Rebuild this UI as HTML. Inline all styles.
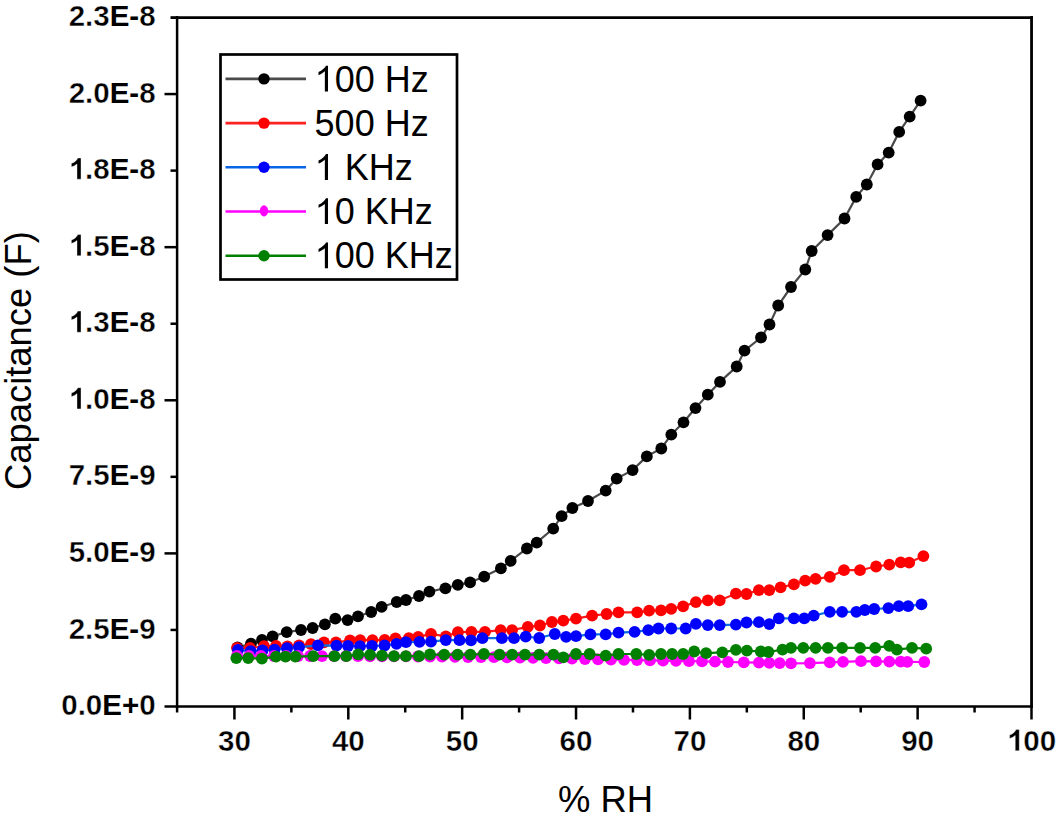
<!DOCTYPE html>
<html><head><meta charset="utf-8"><title>Capacitance vs RH</title>
<style>
html,body{margin:0;padding:0;background:#fff;}
body{width:1058px;height:817px;overflow:hidden;}
svg{display:block;font-family:"Liberation Sans",sans-serif;}
.yl{font-size:29.5px;font-weight:bold;stroke:#fff;stroke-width:0.4px;text-anchor:end;fill:#000;}
.xl{font-size:29.5px;font-weight:bold;stroke:#fff;stroke-width:0.4px;text-anchor:middle;fill:#000;}
.ti{font-size:36.4px;fill:#000;}
.lg{font-size:36px;fill:#000;}
.one{fill-opacity:0;}
</style></head>
<body>
<svg width="1058" height="817" viewBox="0 0 1058 817">
<rect width="1058" height="817" fill="#fff"></rect>
<line x1="177.1" y1="16.1" x2="177.1" y2="707.75" stroke="#000" stroke-width="2.5"></line>
<line x1="175.9" y1="706.6" x2="1032.9" y2="706.6" stroke="#000" stroke-width="2.5"></line>
<line x1="1031.55" y1="16.1" x2="1031.55" y2="707.75" stroke="#000" stroke-width="2.8"></line>
<line x1="175.9" y1="17.6" x2="1032.9" y2="17.6" stroke="#000" stroke-width="2.8"></line>
<line x1="164.5" y1="706.50" x2="177.5" y2="706.50" stroke="#000" stroke-width="2.5"></line>
<line x1="170.5" y1="629.94" x2="177.5" y2="629.94" stroke="#000" stroke-width="2.5"></line>
<line x1="164.5" y1="553.39" x2="177.5" y2="553.39" stroke="#000" stroke-width="2.5"></line>
<line x1="170.5" y1="476.83" x2="177.5" y2="476.83" stroke="#000" stroke-width="2.5"></line>
<line x1="164.5" y1="400.28" x2="177.5" y2="400.28" stroke="#000" stroke-width="2.5"></line>
<line x1="170.5" y1="323.72" x2="177.5" y2="323.72" stroke="#000" stroke-width="2.5"></line>
<line x1="164.5" y1="247.17" x2="177.5" y2="247.17" stroke="#000" stroke-width="2.5"></line>
<line x1="170.5" y1="170.61" x2="177.5" y2="170.61" stroke="#000" stroke-width="2.5"></line>
<line x1="164.5" y1="94.06" x2="177.5" y2="94.06" stroke="#000" stroke-width="2.5"></line>
<line x1="170.5" y1="17.60" x2="177.5" y2="17.60" stroke="#000" stroke-width="2.8"></line>
<line x1="177.10" y1="706.5" x2="177.10" y2="712.5" stroke="#000" stroke-width="2.5"></line>
<line x1="234.43" y1="706.5" x2="234.43" y2="719.5" stroke="#000" stroke-width="2.5"></line>
<line x1="291.37" y1="706.5" x2="291.37" y2="712.5" stroke="#000" stroke-width="2.5"></line>
<line x1="348.30" y1="706.5" x2="348.30" y2="719.5" stroke="#000" stroke-width="2.5"></line>
<line x1="405.23" y1="706.5" x2="405.23" y2="712.5" stroke="#000" stroke-width="2.5"></line>
<line x1="462.17" y1="706.5" x2="462.17" y2="719.5" stroke="#000" stroke-width="2.5"></line>
<line x1="519.10" y1="706.5" x2="519.10" y2="712.5" stroke="#000" stroke-width="2.5"></line>
<line x1="576.03" y1="706.5" x2="576.03" y2="719.5" stroke="#000" stroke-width="2.5"></line>
<line x1="632.97" y1="706.5" x2="632.97" y2="712.5" stroke="#000" stroke-width="2.5"></line>
<line x1="689.90" y1="706.5" x2="689.90" y2="719.5" stroke="#000" stroke-width="2.5"></line>
<line x1="746.83" y1="706.5" x2="746.83" y2="712.5" stroke="#000" stroke-width="2.5"></line>
<line x1="803.77" y1="706.5" x2="803.77" y2="719.5" stroke="#000" stroke-width="2.5"></line>
<line x1="860.70" y1="706.5" x2="860.70" y2="712.5" stroke="#000" stroke-width="2.5"></line>
<line x1="917.63" y1="706.5" x2="917.63" y2="719.5" stroke="#000" stroke-width="2.5"></line>
<line x1="974.57" y1="706.5" x2="974.57" y2="712.5" stroke="#000" stroke-width="2.5"></line>
<line x1="1031.50" y1="706.5" x2="1031.50" y2="719.5" stroke="#000" stroke-width="2.5"></line>
<text x="155.6" y="715.1" class="yl">0.0<tspan style="stroke:none">E</tspan><tspan style="stroke:none">+</tspan>0</text>
<text x="155.6" y="638.5" class="yl">2.5<tspan style="stroke:none">E</tspan><tspan style="stroke:none">-</tspan>9</text>
<text x="155.6" y="562.0" class="yl">5.0<tspan style="stroke:none">E</tspan><tspan style="stroke:none">-</tspan>9</text>
<text x="155.6" y="485.4" class="yl">7.5<tspan style="stroke:none">E</tspan><tspan style="stroke:none">-</tspan>9</text>
<text x="155.6" y="408.9" class="yl"><tspan class="one">1</tspan>.0<tspan style="stroke:none">E</tspan><tspan style="stroke:none">-</tspan>8</text><path d="M860 0H580V1059Q426 915 190 846V1101Q327 1137 456 1237Q585 1338 633 1472H860Z" transform="translate(68.63,408.90) scale(0.014404,-0.014404)" fill="#000" stroke="#fff" stroke-width="0.4" vector-effect="non-scaling-stroke"></path>
<text x="155.6" y="332.3" class="yl"><tspan class="one">1</tspan>.3<tspan style="stroke:none">E</tspan><tspan style="stroke:none">-</tspan>8</text><path d="M860 0H580V1059Q426 915 190 846V1101Q327 1137 456 1237Q585 1338 633 1472H860Z" transform="translate(68.63,332.30) scale(0.014404,-0.014404)" fill="#000" stroke="#fff" stroke-width="0.4" vector-effect="non-scaling-stroke"></path>
<text x="155.6" y="255.8" class="yl"><tspan class="one">1</tspan>.5<tspan style="stroke:none">E</tspan><tspan style="stroke:none">-</tspan>8</text><path d="M860 0H580V1059Q426 915 190 846V1101Q327 1137 456 1237Q585 1338 633 1472H860Z" transform="translate(68.63,255.80) scale(0.014404,-0.014404)" fill="#000" stroke="#fff" stroke-width="0.4" vector-effect="non-scaling-stroke"></path>
<text x="155.6" y="179.2" class="yl"><tspan class="one">1</tspan>.8<tspan style="stroke:none">E</tspan><tspan style="stroke:none">-</tspan>8</text><path d="M860 0H580V1059Q426 915 190 846V1101Q327 1137 456 1237Q585 1338 633 1472H860Z" transform="translate(68.63,179.20) scale(0.014404,-0.014404)" fill="#000" stroke="#fff" stroke-width="0.4" vector-effect="non-scaling-stroke"></path>
<text x="155.6" y="102.7" class="yl">2.0<tspan style="stroke:none">E</tspan><tspan style="stroke:none">-</tspan>8</text>
<text x="155.6" y="26.1" class="yl">2.3<tspan style="stroke:none">E</tspan><tspan style="stroke:none">-</tspan>8</text>
<text x="234.4" y="750.8" class="xl">30</text>
<text x="348.3" y="750.8" class="xl">40</text>
<text x="462.2" y="750.8" class="xl">50</text>
<text x="576.0" y="750.8" class="xl">60</text>
<text x="689.9" y="750.8" class="xl">70</text>
<text x="803.8" y="750.8" class="xl">80</text>
<text x="917.6" y="750.8" class="xl">90</text>
<text x="1031.5" y="750.8" class="xl"><tspan class="one">1</tspan>00</text><path d="M860 0H580V1059Q426 915 190 846V1101Q327 1137 456 1237Q585 1338 633 1472H860Z" transform="translate(1006.88,750.80) scale(0.014404,-0.014404)" fill="#000" stroke="#fff" stroke-width="0.4" vector-effect="non-scaling-stroke"></path>
<text class="ti" x="605.6" y="811.8" text-anchor="middle">% RH</text>
<text class="ti" transform="translate(31.4,360.6) rotate(-90)" text-anchor="middle">Capacitance (F)</text>
<polyline points="237.5,647.5 251.0,643.6 262.0,640.0 272.6,636.3 286.7,632.1 301.0,630.0 312.6,628.0 324.9,624.3 335.3,618.6 347.6,620.1 358.0,616.3 371.2,612.0 381.6,606.9 396.7,602.0 406.0,600.0 419.0,596.0 429.4,591.6 445.4,588.3 457.8,584.8 470.1,582.4 484.2,576.6 500.9,568.3 510.7,560.9 526.9,548.5 536.7,542.7 553.2,528.6 561.6,516.2 572.4,508.0 588.0,501.0 605.7,490.6 616.7,478.6 632.6,470.1 646.8,456.4 661.3,448.5 671.3,434.6 683.5,422.3 695.5,408.1 707.8,394.7 720.0,381.9 736.7,366.5 744.5,350.6 761.0,337.5 769.5,324.5 778.2,305.5 791.0,287.0 805.3,269.5 811.7,251.0 827.6,235.1 844.5,218.5 856.2,196.9 866.8,184.5 877.6,164.4 888.7,152.6 899.2,131.9 909.7,116.6 920.6,100.7" fill="none" stroke="#4a4a4a" stroke-width="2.2"></polyline>
<g fill="#000"><circle cx="237.5" cy="647.5" r="5.9"></circle><circle cx="251.0" cy="643.6" r="5.9"></circle><circle cx="262.0" cy="640.0" r="5.9"></circle><circle cx="272.6" cy="636.3" r="5.9"></circle><circle cx="286.7" cy="632.1" r="5.9"></circle><circle cx="301.0" cy="630.0" r="5.9"></circle><circle cx="312.6" cy="628.0" r="5.9"></circle><circle cx="324.9" cy="624.3" r="5.9"></circle><circle cx="335.3" cy="618.6" r="5.9"></circle><circle cx="347.6" cy="620.1" r="5.9"></circle><circle cx="358.0" cy="616.3" r="5.9"></circle><circle cx="371.2" cy="612.0" r="5.9"></circle><circle cx="381.6" cy="606.9" r="5.9"></circle><circle cx="396.7" cy="602.0" r="5.9"></circle><circle cx="406.0" cy="600.0" r="5.9"></circle><circle cx="419.0" cy="596.0" r="5.9"></circle><circle cx="429.4" cy="591.6" r="5.9"></circle><circle cx="445.4" cy="588.3" r="5.9"></circle><circle cx="457.8" cy="584.8" r="5.9"></circle><circle cx="470.1" cy="582.4" r="5.9"></circle><circle cx="484.2" cy="576.6" r="5.9"></circle><circle cx="500.9" cy="568.3" r="5.9"></circle><circle cx="510.7" cy="560.9" r="5.9"></circle><circle cx="526.9" cy="548.5" r="5.9"></circle><circle cx="536.7" cy="542.7" r="5.9"></circle><circle cx="553.2" cy="528.6" r="5.9"></circle><circle cx="561.6" cy="516.2" r="5.9"></circle><circle cx="572.4" cy="508.0" r="5.9"></circle><circle cx="588.0" cy="501.0" r="5.9"></circle><circle cx="605.7" cy="490.6" r="5.9"></circle><circle cx="616.7" cy="478.6" r="5.9"></circle><circle cx="632.6" cy="470.1" r="5.9"></circle><circle cx="646.8" cy="456.4" r="5.9"></circle><circle cx="661.3" cy="448.5" r="5.9"></circle><circle cx="671.3" cy="434.6" r="5.9"></circle><circle cx="683.5" cy="422.3" r="5.9"></circle><circle cx="695.5" cy="408.1" r="5.9"></circle><circle cx="707.8" cy="394.7" r="5.9"></circle><circle cx="720.0" cy="381.9" r="5.9"></circle><circle cx="736.7" cy="366.5" r="5.9"></circle><circle cx="744.5" cy="350.6" r="5.9"></circle><circle cx="761.0" cy="337.5" r="5.9"></circle><circle cx="769.5" cy="324.5" r="5.9"></circle><circle cx="778.2" cy="305.5" r="5.9"></circle><circle cx="791.0" cy="287.0" r="5.9"></circle><circle cx="805.3" cy="269.5" r="5.9"></circle><circle cx="811.7" cy="251.0" r="5.9"></circle><circle cx="827.6" cy="235.1" r="5.9"></circle><circle cx="844.5" cy="218.5" r="5.9"></circle><circle cx="856.2" cy="196.9" r="5.9"></circle><circle cx="866.8" cy="184.5" r="5.9"></circle><circle cx="877.6" cy="164.4" r="5.9"></circle><circle cx="888.7" cy="152.6" r="5.9"></circle><circle cx="899.2" cy="131.9" r="5.9"></circle><circle cx="909.7" cy="116.6" r="5.9"></circle><circle cx="920.6" cy="100.7" r="5.9"></circle></g>
<polyline points="237.0,648.0 250.0,648.0 264.0,646.2 276.0,646.0 287.4,646.5 299.0,645.5 311.0,644.2 324.0,642.3 336.0,642.3 350.0,640.3 360.2,640.1 372.5,640.1 384.7,640.0 395.5,638.4 408.8,638.2 418.2,636.9 431.0,633.9 445.8,636.3 457.9,632.2 471.4,631.9 485.0,631.9 500.7,630.1 512.1,630.1 527.8,626.9 539.9,625.5 551.9,622.0 563.3,620.6 576.0,618.6 592.1,615.7 606.6,614.0 618.5,612.3 637.2,612.3 649.1,610.6 661.0,610.3 671.2,608.9 683.1,606.4 695.9,602.1 707.8,600.4 719.7,600.4 735.9,593.6 746.5,594.0 758.9,590.1 769.3,590.1 780.6,587.3 793.9,584.4 805.2,580.6 815.6,578.8 829.8,576.9 844.0,570.2 860.0,570.2 876.1,566.5 889.3,564.6 900.7,562.3 909.2,562.7 923.4,556.1" fill="none" stroke="#ff1a1a" stroke-width="2.2"></polyline>
<g fill="#ff0000"><circle cx="237.0" cy="648.0" r="5.9"></circle><circle cx="250.0" cy="648.0" r="5.9"></circle><circle cx="264.0" cy="646.2" r="5.9"></circle><circle cx="276.0" cy="646.0" r="5.9"></circle><circle cx="287.4" cy="646.5" r="5.9"></circle><circle cx="299.0" cy="645.5" r="5.9"></circle><circle cx="311.0" cy="644.2" r="5.9"></circle><circle cx="324.0" cy="642.3" r="5.9"></circle><circle cx="336.0" cy="642.3" r="5.9"></circle><circle cx="350.0" cy="640.3" r="5.9"></circle><circle cx="360.2" cy="640.1" r="5.9"></circle><circle cx="372.5" cy="640.1" r="5.9"></circle><circle cx="384.7" cy="640.0" r="5.9"></circle><circle cx="395.5" cy="638.4" r="5.9"></circle><circle cx="408.8" cy="638.2" r="5.9"></circle><circle cx="418.2" cy="636.9" r="5.9"></circle><circle cx="431.0" cy="633.9" r="5.9"></circle><circle cx="445.8" cy="636.3" r="5.9"></circle><circle cx="457.9" cy="632.2" r="5.9"></circle><circle cx="471.4" cy="631.9" r="5.9"></circle><circle cx="485.0" cy="631.9" r="5.9"></circle><circle cx="500.7" cy="630.1" r="5.9"></circle><circle cx="512.1" cy="630.1" r="5.9"></circle><circle cx="527.8" cy="626.9" r="5.9"></circle><circle cx="539.9" cy="625.5" r="5.9"></circle><circle cx="551.9" cy="622.0" r="5.9"></circle><circle cx="563.3" cy="620.6" r="5.9"></circle><circle cx="576.0" cy="618.6" r="5.9"></circle><circle cx="592.1" cy="615.7" r="5.9"></circle><circle cx="606.6" cy="614.0" r="5.9"></circle><circle cx="618.5" cy="612.3" r="5.9"></circle><circle cx="637.2" cy="612.3" r="5.9"></circle><circle cx="649.1" cy="610.6" r="5.9"></circle><circle cx="661.0" cy="610.3" r="5.9"></circle><circle cx="671.2" cy="608.9" r="5.9"></circle><circle cx="683.1" cy="606.4" r="5.9"></circle><circle cx="695.9" cy="602.1" r="5.9"></circle><circle cx="707.8" cy="600.4" r="5.9"></circle><circle cx="719.7" cy="600.4" r="5.9"></circle><circle cx="735.9" cy="593.6" r="5.9"></circle><circle cx="746.5" cy="594.0" r="5.9"></circle><circle cx="758.9" cy="590.1" r="5.9"></circle><circle cx="769.3" cy="590.1" r="5.9"></circle><circle cx="780.6" cy="587.3" r="5.9"></circle><circle cx="793.9" cy="584.4" r="5.9"></circle><circle cx="805.2" cy="580.6" r="5.9"></circle><circle cx="815.6" cy="578.8" r="5.9"></circle><circle cx="829.8" cy="576.9" r="5.9"></circle><circle cx="844.0" cy="570.2" r="5.9"></circle><circle cx="860.0" cy="570.2" r="5.9"></circle><circle cx="876.1" cy="566.5" r="5.9"></circle><circle cx="889.3" cy="564.6" r="5.9"></circle><circle cx="900.7" cy="562.3" r="5.9"></circle><circle cx="909.2" cy="562.7" r="5.9"></circle><circle cx="923.4" cy="556.1" r="5.9"></circle></g>
<polyline points="238.0,650.0 250.7,651.2 262.5,650.5 274.6,649.6 287.0,648.2 299.0,647.2 318.0,645.4 336.5,645.6 348.0,646.0 360.0,646.2 372.0,646.0 384.5,645.5 396.5,643.8 406.0,642.2 419.5,641.9 431.0,641.6 445.8,640.1 459.5,640.2 471.0,640.4 482.4,638.2 501.9,638.2 514.0,638.2 525.7,636.6 539.2,638.0 554.8,634.0 566.1,636.9 576.0,636.2 590.4,634.4 605.7,634.4 618.5,632.7 634.6,631.9 648.3,630.2 658.5,628.5 671.2,628.5 685.7,628.5 695.9,623.9 707.8,625.1 719.7,625.1 735.9,624.6 746.5,622.5 758.9,622.2 769.3,624.1 778.8,618.4 793.9,618.4 804.3,618.4 813.7,615.6 829.8,611.8 842.1,611.8 856.3,611.8 864.8,610.0 874.2,609.0 888.4,608.1 898.8,606.2 908.2,606.2 921.5,604.3" fill="none" stroke="#0a6ee0" stroke-width="2.2"></polyline>
<g fill="#0000ff"><circle cx="238.0" cy="650.0" r="5.9"></circle><circle cx="250.7" cy="651.2" r="5.9"></circle><circle cx="262.5" cy="650.5" r="5.9"></circle><circle cx="274.6" cy="649.6" r="5.9"></circle><circle cx="287.0" cy="648.2" r="5.9"></circle><circle cx="299.0" cy="647.2" r="5.9"></circle><circle cx="318.0" cy="645.4" r="5.9"></circle><circle cx="336.5" cy="645.6" r="5.9"></circle><circle cx="348.0" cy="646.0" r="5.9"></circle><circle cx="360.0" cy="646.2" r="5.9"></circle><circle cx="372.0" cy="646.0" r="5.9"></circle><circle cx="384.5" cy="645.5" r="5.9"></circle><circle cx="396.5" cy="643.8" r="5.9"></circle><circle cx="406.0" cy="642.2" r="5.9"></circle><circle cx="419.5" cy="641.9" r="5.9"></circle><circle cx="431.0" cy="641.6" r="5.9"></circle><circle cx="445.8" cy="640.1" r="5.9"></circle><circle cx="459.5" cy="640.2" r="5.9"></circle><circle cx="471.0" cy="640.4" r="5.9"></circle><circle cx="482.4" cy="638.2" r="5.9"></circle><circle cx="501.9" cy="638.2" r="5.9"></circle><circle cx="514.0" cy="638.2" r="5.9"></circle><circle cx="525.7" cy="636.6" r="5.9"></circle><circle cx="539.2" cy="638.0" r="5.9"></circle><circle cx="554.8" cy="634.0" r="5.9"></circle><circle cx="566.1" cy="636.9" r="5.9"></circle><circle cx="576.0" cy="636.2" r="5.9"></circle><circle cx="590.4" cy="634.4" r="5.9"></circle><circle cx="605.7" cy="634.4" r="5.9"></circle><circle cx="618.5" cy="632.7" r="5.9"></circle><circle cx="634.6" cy="631.9" r="5.9"></circle><circle cx="648.3" cy="630.2" r="5.9"></circle><circle cx="658.5" cy="628.5" r="5.9"></circle><circle cx="671.2" cy="628.5" r="5.9"></circle><circle cx="685.7" cy="628.5" r="5.9"></circle><circle cx="695.9" cy="623.9" r="5.9"></circle><circle cx="707.8" cy="625.1" r="5.9"></circle><circle cx="719.7" cy="625.1" r="5.9"></circle><circle cx="735.9" cy="624.6" r="5.9"></circle><circle cx="746.5" cy="622.5" r="5.9"></circle><circle cx="758.9" cy="622.2" r="5.9"></circle><circle cx="769.3" cy="624.1" r="5.9"></circle><circle cx="778.8" cy="618.4" r="5.9"></circle><circle cx="793.9" cy="618.4" r="5.9"></circle><circle cx="804.3" cy="618.4" r="5.9"></circle><circle cx="813.7" cy="615.6" r="5.9"></circle><circle cx="829.8" cy="611.8" r="5.9"></circle><circle cx="842.1" cy="611.8" r="5.9"></circle><circle cx="856.3" cy="611.8" r="5.9"></circle><circle cx="864.8" cy="610.0" r="5.9"></circle><circle cx="874.2" cy="609.0" r="5.9"></circle><circle cx="888.4" cy="608.1" r="5.9"></circle><circle cx="898.8" cy="606.2" r="5.9"></circle><circle cx="908.2" cy="606.2" r="5.9"></circle><circle cx="921.5" cy="604.3" r="5.9"></circle></g>
<polyline points="237.0,656.0 249.0,656.0 261.0,656.0 274.0,656.0 286.0,656.0 298.0,656.0 310.0,656.0 322.0,656.1 334.0,656.1 346.0,656.2 358.0,656.2 370.0,656.3 382.0,656.3 394.0,656.4 406.0,656.4 418.0,656.5 430.0,656.6 442.0,656.7 455.0,656.9 468.0,657.0 481.0,657.1 494.0,657.2 507.0,657.4 520.0,657.5 533.0,657.8 546.0,658.1 559.0,658.4 572.0,658.7 585.0,659.0 598.0,659.3 611.0,659.5 624.0,659.8 637.0,660.1 650.0,660.4 663.0,660.7 676.0,660.9 689.0,661.2 702.0,661.4 715.0,661.7 728.0,662.0 743.8,662.3 758.9,662.6 769.3,662.8 779.7,663.1 791.0,663.3 809.9,663.1 829.8,662.4 843.0,661.9 861.0,661.2 876.1,661.4 889.3,661.6 900.7,661.7 907.3,661.8 924.3,662.0" fill="none" stroke="#ff00ff" stroke-width="2.2"></polyline>
<g fill="#ff00ff"><circle cx="237.0" cy="656.0" r="5.9"></circle><circle cx="249.0" cy="656.0" r="5.9"></circle><circle cx="261.0" cy="656.0" r="5.9"></circle><circle cx="274.0" cy="656.0" r="5.9"></circle><circle cx="286.0" cy="656.0" r="5.9"></circle><circle cx="298.0" cy="656.0" r="5.9"></circle><circle cx="310.0" cy="656.0" r="5.9"></circle><circle cx="322.0" cy="656.1" r="5.9"></circle><circle cx="334.0" cy="656.1" r="5.9"></circle><circle cx="346.0" cy="656.2" r="5.9"></circle><circle cx="358.0" cy="656.2" r="5.9"></circle><circle cx="370.0" cy="656.3" r="5.9"></circle><circle cx="382.0" cy="656.3" r="5.9"></circle><circle cx="394.0" cy="656.4" r="5.9"></circle><circle cx="406.0" cy="656.4" r="5.9"></circle><circle cx="418.0" cy="656.5" r="5.9"></circle><circle cx="430.0" cy="656.6" r="5.9"></circle><circle cx="442.0" cy="656.7" r="5.9"></circle><circle cx="455.0" cy="656.9" r="5.9"></circle><circle cx="468.0" cy="657.0" r="5.9"></circle><circle cx="481.0" cy="657.1" r="5.9"></circle><circle cx="494.0" cy="657.2" r="5.9"></circle><circle cx="507.0" cy="657.4" r="5.9"></circle><circle cx="520.0" cy="657.5" r="5.9"></circle><circle cx="533.0" cy="657.8" r="5.9"></circle><circle cx="546.0" cy="658.1" r="5.9"></circle><circle cx="559.0" cy="658.4" r="5.9"></circle><circle cx="572.0" cy="658.7" r="5.9"></circle><circle cx="585.0" cy="659.0" r="5.9"></circle><circle cx="598.0" cy="659.3" r="5.9"></circle><circle cx="611.0" cy="659.5" r="5.9"></circle><circle cx="624.0" cy="659.8" r="5.9"></circle><circle cx="637.0" cy="660.1" r="5.9"></circle><circle cx="650.0" cy="660.4" r="5.9"></circle><circle cx="663.0" cy="660.7" r="5.9"></circle><circle cx="676.0" cy="660.9" r="5.9"></circle><circle cx="689.0" cy="661.2" r="5.9"></circle><circle cx="702.0" cy="661.4" r="5.9"></circle><circle cx="715.0" cy="661.7" r="5.9"></circle><circle cx="728.0" cy="662.0" r="5.9"></circle><circle cx="743.8" cy="662.3" r="5.9"></circle><circle cx="758.9" cy="662.6" r="5.9"></circle><circle cx="769.3" cy="662.8" r="5.9"></circle><circle cx="779.7" cy="663.1" r="5.9"></circle><circle cx="791.0" cy="663.3" r="5.9"></circle><circle cx="809.9" cy="663.1" r="5.9"></circle><circle cx="829.8" cy="662.4" r="5.9"></circle><circle cx="843.0" cy="661.9" r="5.9"></circle><circle cx="861.0" cy="661.2" r="5.9"></circle><circle cx="876.1" cy="661.4" r="5.9"></circle><circle cx="889.3" cy="661.6" r="5.9"></circle><circle cx="900.7" cy="661.7" r="5.9"></circle><circle cx="907.3" cy="661.8" r="5.9"></circle><circle cx="924.3" cy="662.0" r="5.9"></circle></g>
<polyline points="236.3,658.1 248.2,658.1 261.9,658.6 276.0,656.7 285.5,656.7 295.4,656.7 313.2,656.2 334.4,656.2 346.3,656.2 358.2,654.3 370.1,654.9 382.0,655.6 394.0,656.2 405.9,656.2 419.1,656.2 430.0,654.5 444.2,654.6 457.6,654.6 470.4,654.6 483.9,654.0 499.5,654.6 512.2,654.6 525.0,654.6 539.2,654.6 553.4,654.6 563.3,657.4 576.0,654.0 589.6,654.0 605.7,655.7 618.5,654.0 636.3,654.0 649.1,654.9 661.0,654.0 672.1,654.0 683.1,654.0 694.2,651.5 706.1,653.2 722.3,652.3 735.9,649.8 746.9,650.6 760.8,651.5 768.4,652.0 782.5,649.6 791.0,647.8 803.3,647.8 815.6,647.8 827.9,647.8 842.1,647.8 860.0,647.8 875.2,647.8 889.3,645.9 896.9,649.6 912.0,647.8 926.2,648.7" fill="none" stroke="#008000" stroke-width="2.2"></polyline>
<g fill="#008000"><circle cx="236.3" cy="658.1" r="5.9"></circle><circle cx="248.2" cy="658.1" r="5.9"></circle><circle cx="261.9" cy="658.6" r="5.9"></circle><circle cx="276.0" cy="656.7" r="5.9"></circle><circle cx="285.5" cy="656.7" r="5.9"></circle><circle cx="295.4" cy="656.7" r="5.9"></circle><circle cx="313.2" cy="656.2" r="5.9"></circle><circle cx="334.4" cy="656.2" r="5.9"></circle><circle cx="346.3" cy="656.2" r="5.9"></circle><circle cx="358.2" cy="654.3" r="5.9"></circle><circle cx="370.1" cy="654.9" r="5.9"></circle><circle cx="382.0" cy="655.6" r="5.9"></circle><circle cx="394.0" cy="656.2" r="5.9"></circle><circle cx="405.9" cy="656.2" r="5.9"></circle><circle cx="419.1" cy="656.2" r="5.9"></circle><circle cx="430.0" cy="654.5" r="5.9"></circle><circle cx="444.2" cy="654.6" r="5.9"></circle><circle cx="457.6" cy="654.6" r="5.9"></circle><circle cx="470.4" cy="654.6" r="5.9"></circle><circle cx="483.9" cy="654.0" r="5.9"></circle><circle cx="499.5" cy="654.6" r="5.9"></circle><circle cx="512.2" cy="654.6" r="5.9"></circle><circle cx="525.0" cy="654.6" r="5.9"></circle><circle cx="539.2" cy="654.6" r="5.9"></circle><circle cx="553.4" cy="654.6" r="5.9"></circle><circle cx="563.3" cy="657.4" r="5.9"></circle><circle cx="576.0" cy="654.0" r="5.9"></circle><circle cx="589.6" cy="654.0" r="5.9"></circle><circle cx="605.7" cy="655.7" r="5.9"></circle><circle cx="618.5" cy="654.0" r="5.9"></circle><circle cx="636.3" cy="654.0" r="5.9"></circle><circle cx="649.1" cy="654.9" r="5.9"></circle><circle cx="661.0" cy="654.0" r="5.9"></circle><circle cx="672.1" cy="654.0" r="5.9"></circle><circle cx="683.1" cy="654.0" r="5.9"></circle><circle cx="694.2" cy="651.5" r="5.9"></circle><circle cx="706.1" cy="653.2" r="5.9"></circle><circle cx="722.3" cy="652.3" r="5.9"></circle><circle cx="735.9" cy="649.8" r="5.9"></circle><circle cx="746.9" cy="650.6" r="5.9"></circle><circle cx="760.8" cy="651.5" r="5.9"></circle><circle cx="768.4" cy="652.0" r="5.9"></circle><circle cx="782.5" cy="649.6" r="5.9"></circle><circle cx="791.0" cy="647.8" r="5.9"></circle><circle cx="803.3" cy="647.8" r="5.9"></circle><circle cx="815.6" cy="647.8" r="5.9"></circle><circle cx="827.9" cy="647.8" r="5.9"></circle><circle cx="842.1" cy="647.8" r="5.9"></circle><circle cx="860.0" cy="647.8" r="5.9"></circle><circle cx="875.2" cy="647.8" r="5.9"></circle><circle cx="889.3" cy="645.9" r="5.9"></circle><circle cx="896.9" cy="649.6" r="5.9"></circle><circle cx="912.0" cy="647.8" r="5.9"></circle><circle cx="926.2" cy="648.7" r="5.9"></circle></g>
<rect x="220.5" y="54.5" width="236.5" height="225" fill="#fff" stroke="#000" stroke-width="2.7"></rect>
<line x1="225.5" y1="78.9" x2="306" y2="78.9" stroke="#4a4a4a" stroke-width="2.6"></line>
<circle cx="264" cy="78.9" r="5.7" fill="#000"></circle>
<text class="lg" x="314.6" y="91.5"><tspan class="one">1</tspan>00 Hz</text><path d="M763 0H583V1147Q518 1085 412.5 1023Q307 961 223 930V1104Q374 1175 487 1276Q600 1377 647 1472H763V0Z" transform="translate(314.60,91.50) scale(0.017578,-0.017578)" fill="#000"></path>
<line x1="225.5" y1="123.1" x2="306" y2="123.1" stroke="#ff2020" stroke-width="2.6"></line>
<circle cx="264" cy="123.1" r="5.7" fill="#ff0000"></circle>
<text class="lg" x="314.6" y="135.7">500 Hz</text>
<line x1="225.5" y1="167.3" x2="306" y2="167.3" stroke="#0a64e6" stroke-width="2.6"></line>
<circle cx="264" cy="167.3" r="5.7" fill="#0000ff"></circle>
<text class="lg" x="314.6" y="179.9"><tspan class="one">1</tspan> KHz</text><path d="M763 0H583V1147Q518 1085 412.5 1023Q307 961 223 930V1104Q374 1175 487 1276Q600 1377 647 1472H763V0Z" transform="translate(314.60,179.90) scale(0.017578,-0.017578)" fill="#000"></path>
<line x1="225.5" y1="211.5" x2="306" y2="211.5" stroke="#ff00ff" stroke-width="2.6"></line>
<ellipse cx="264" cy="210.9" rx="4.2" ry="5.6" fill="#ff00ff"></ellipse>
<text class="lg" x="314.6" y="224.1"><tspan class="one">1</tspan>0 KHz</text><path d="M763 0H583V1147Q518 1085 412.5 1023Q307 961 223 930V1104Q374 1175 487 1276Q600 1377 647 1472H763V0Z" transform="translate(314.60,224.10) scale(0.017578,-0.017578)" fill="#000"></path>
<line x1="225.5" y1="255.7" x2="306" y2="255.7" stroke="#008000" stroke-width="2.6"></line>
<circle cx="264" cy="255.7" r="5.7" fill="#008000"></circle>
<text class="lg" x="314.6" y="268.3"><tspan class="one">1</tspan>00 KHz</text><path d="M763 0H583V1147Q518 1085 412.5 1023Q307 961 223 930V1104Q374 1175 487 1276Q600 1377 647 1472H763V0Z" transform="translate(314.60,268.30) scale(0.017578,-0.017578)" fill="#000"></path>
</svg>

</body></html>
